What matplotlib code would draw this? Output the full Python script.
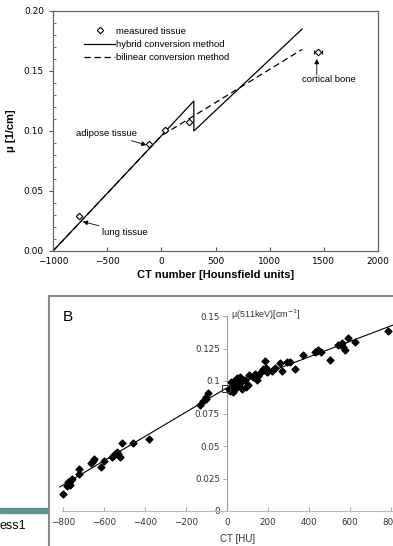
import matplotlib
matplotlib.use("Agg")
import matplotlib.pyplot as plt
from matplotlib.lines import Line2D
from matplotlib.patches import Rectangle
from matplotlib.ticker import MultipleLocator, FormatStrFormatter

# ---- panel A: conversion curves and measured tissues ----
hybrid_ct = [-1000, 0, 300, 300, 1300]
hybrid_mu = [0.0, 0.096, 0.125, 0.100, 0.185]
bilinear_ct = [-1000, 0, 1300]
bilinear_mu = [0.0, 0.096, 0.168]
tissue_ct = [-760, -114, 34, 255, 1446]
tissue_mu = [0.029, 0.089, 0.101, 0.1075, 0.166]
tissue_xerr = [0, 0, 0, 0, 35]

# ---- panel B: CT number vs attenuation at 511 keV ----
b_ct = [-801, -779, -769, -774, -763, -756, -766, -720, -720, -662, -655, -649,
        -615, -600, -562, -555, -546, -538, -532, -522, -514, -460, -380,
        -132, -116, -104, -91, -100,
        23, 31, 39, 47, 63, 28, 72, 88, 104, 125, 145, 161, 187, 190,
        15, 20, 35, 42, 55, 60, 12, 50, 68, 80, 95, 110, 137,
        177, 194, 218, 234, 259, 267, 291, 310, 332, 369, 429, 445, 457, 502,
        543, 559, 567, 576, 592, 624, 787, 440, 200, 150]
b_mu = [0.0131, 0.0192, 0.0213, 0.0226, 0.0238, 0.0249, 0.0200, 0.0285, 0.0320,
        0.0370, 0.0387, 0.0400, 0.0336, 0.0385, 0.0413, 0.0423, 0.0438, 0.0456,
        0.0438, 0.0418, 0.0520, 0.0520, 0.0554,
        0.0815, 0.0848, 0.0879, 0.0910, 0.0860,
        0.0943, 0.0961, 0.0982, 0.1007, 0.1033, 0.0918, 0.0936, 0.1007, 0.0970,
        0.1033, 0.1007, 0.1060, 0.1156, 0.1097,
        0.0925, 0.0990, 0.1000, 0.0950, 0.1015, 0.0980, 0.0935, 0.1025, 0.0990,
        0.1005, 0.0955, 0.1045, 0.1053,
        0.1090, 0.1070, 0.1080, 0.1097, 0.1140, 0.1080, 0.1148, 0.1148, 0.1090,
        0.1200, 0.1225, 0.1240, 0.1225, 0.1160,
        0.1277, 0.1295, 0.1264, 0.1240, 0.1328, 0.1300, 0.1385, 0.1230, 0.1075, 0.1040]
fit_ct = [-815, -5, 810]
fit_mu = [0.0185, 0.0943, 0.1430]
ref_ct = [-5]
ref_mu = [0.0943]

b_yticks = [0, 0.025, 0.05, 0.075, 0.1, 0.125, 0.15]
b_yticklabels = ["0", "0.025", "0.05", "0.075", "0.1", "0.125", "0.15"]
b_xticks = [-800, -600, -400, -200, 0, 200, 400, 600, 800]

W, H = 393, 546
fig = plt.figure(figsize=(W / 100, H / 100), dpi=100)

def fx(px):
    return px / W

def fy(py):
    return 1 - py / H

# panel A
ax = fig.add_axes([fx(53), fy(251), fx(378) - fx(53), fy(11) - fy(251)])
l_hyb, = ax.plot(hybrid_ct, hybrid_mu, color="black", lw=0.9)
l_bil, = ax.plot(bilinear_ct, bilinear_mu, color="black", lw=0.9, ls=(0, (5, 3)))
ax.errorbar(tissue_ct, tissue_mu, xerr=tissue_xerr, fmt="D", ms=3.3, mfc="white",
            mec="black", mew=0.8, ecolor="black", elinewidth=0.7, capsize=1.5)
ax.set_xlim(-1000, 2000)
ax.set_ylim(0, 0.20)
ax.xaxis.set_major_locator(MultipleLocator(500))
ax.yaxis.set_major_locator(MultipleLocator(0.05))
ax.yaxis.set_minor_locator(MultipleLocator(0.01))
ax.yaxis.set_major_formatter(FormatStrFormatter("%.2f"))
ax.tick_params(axis="x", direction="in", length=3, labelsize=6.5, colors="#555",
               labelcolor="black", pad=4)
ax.tick_params(axis="y", which="major", direction="out", length=3, labelsize=6.5,
               colors="#555", labelcolor="black")
ax.tick_params(axis="y", which="minor", direction="in", length=2, colors="#555")
for s in ax.spines.values():
    s.set_color("#666")
    s.set_linewidth(0.9)
for lab in ax.get_xticklabels() + ax.get_yticklabels():
    lab.set_family("DejaVu Sans")
ax.set_xlabel("CT number [Hounsfield units]", fontsize=8, fontweight="bold",
              family="Liberation Sans", labelpad=3)
ax.set_ylabel("μ [1/cm]", fontsize=8, fontweight="bold", family="Liberation Sans",
              labelpad=6)

h_tissue = Line2D([], [], ls="none", marker="D", ms=3.3, mfc="white", mec="black",
                  mew=0.8)
ax.legend([h_tissue, l_hyb, l_bil],
          ["measured tissue", "hybrid conversion method", "bilinear conversion method"],
          loc="upper left", bbox_to_anchor=(0.07, 0.97), frameon=False,
          prop={"family": "Liberation Sans", "size": 6.8}, handlelength=3.3,
          handletextpad=0.1, labelspacing=0.45)

tk = dict(fontsize=6.8, family="Liberation Sans")
arr = dict(arrowstyle="-|>", color="black", lw=0.6, mutation_scale=7)
ax.annotate("adipose tissue", xy=(-125, 0.088), xytext=(-510, 0.098), ha="center",
            va="center", arrowprops=dict(arr, shrinkA=22, shrinkB=1), **tk)
ax.annotate("lung tissue", xy=(-725, 0.0245), xytext=(-340, 0.0155), ha="center",
            va="center", arrowprops=dict(arr, shrinkB=0, shrinkA=13), **tk)
ax.text(1550, 0.143, "cortical bone", ha="center", va="center", **tk)
ax.annotate("", xy=(1435, 0.160), xytext=(1435, 0.147),
            arrowprops=dict(arr, shrinkA=0, shrinkB=0))

# frame around panel B and the slide fragment
fig.add_artist(Line2D([fx(49), fx(49)], [0, fy(296)], color="#8a8a8a", lw=1.5))
fig.add_artist(Line2D([fx(49), 1], [fy(296), fy(296)], color="#8a8a8a", lw=1.5))
fig.add_artist(Rectangle((0, fy(513)), fx(48), fy(508) - fy(513), color="#5f9690",
                         transform=fig.transFigure))
fig.text(fx(-1), fy(526), "ess1", fontsize=9, family="Liberation Sans", va="center")
fig.text(fx(63), fy(317), "B", fontsize=11, family="Liberation Sans", va="center")

# panel B
bx = fig.add_axes([fx(58), fy(511), fx(393) - fx(58), fy(316) - fy(511)])
bx.plot(fit_ct, fit_mu, color="black", lw=0.8, zorder=2)
bx.scatter(b_ct, b_mu, marker="D", s=12, color="black", zorder=3, clip_on=False)
bx.scatter(ref_ct, ref_mu, marker="s", s=28, facecolor="none", edgecolor="#333",
           linewidth=0.7, zorder=4)
bx.set_xlim(-824, 810)
bx.set_ylim(0, 0.15)
bx.spines["top"].set_visible(False)
bx.spines["right"].set_visible(False)
bx.spines["left"].set_position(("data", 0))
bx.spines["left"].set_color("#999")
bx.spines["bottom"].set_color("#bbb")
bx.spines["left"].set_linewidth(0.8)
bx.spines["bottom"].set_linewidth(0.8)
bx.spines["bottom"].set_bounds(-805, 810)
bx.set_xticks(b_xticks)
bx.set_yticks(b_yticks)
bx.set_yticklabels(b_yticklabels)
bx.tick_params(axis="both", length=3, colors="#999", labelcolor="#333", labelsize=6.3,
               width=0.6)
bx.tick_params(axis="x", direction="in", pad=5)
bx.tick_params(axis="y", direction="out", pad=2)
for lab in bx.get_xticklabels() + bx.get_yticklabels():
    lab.set_family("DejaVu Sans")
bx.text(50, -0.0215, "CT [HU]", fontsize=7, family="Liberation Sans", ha="center",
        va="center", color="#333")
bx.text(20, 0.151, "μ(511keV)[cm$^{-1}$]", fontsize=6.5, family="Liberation Sans",
        ha="left", va="center", color="#333")

fig.savefig("out.png", dpi=100)
